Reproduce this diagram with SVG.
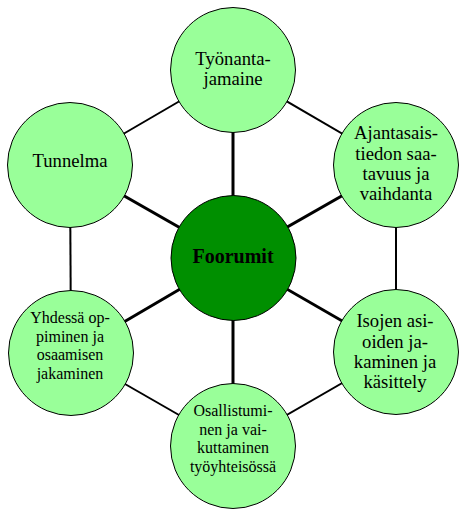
<svg xmlns="http://www.w3.org/2000/svg" width="466" height="528" viewBox="0 0 466 528" font-family="'Liberation Serif', 'Times New Roman', 'DejaVu Serif', serif">
<style>
.ring{stroke:#000;stroke-width:2;fill:none}
.spoke{stroke:#000;stroke-width:3;fill:none}
.outer{fill:#99ff99;stroke:#000;stroke-width:1}
.hub{fill:#008f00;stroke:#000;stroke-width:1}
text{font-family:'Liberation Serif','Times New Roman','DejaVu Serif',serif;fill:#000;text-anchor:middle}
.t14{font-size:18.67px}
.t12{font-size:16px}
.tb{font-size:20px;font-weight:bold}
</style>
<rect width="466" height="528" fill="#fff"/>
<g id="connectors">
<line class="ring" x1="233" y1="70" x2="396" y2="165"/>
<line class="ring" x1="396" y1="165" x2="396" y2="352"/>
<line class="ring" x1="396" y1="352" x2="233" y2="446"/>
<line class="ring" x1="233" y1="446" x2="71" y2="353"/>
<line class="ring" x1="71" y1="353" x2="70" y2="165"/>
<line class="ring" x1="70" y1="165" x2="233" y2="70"/>
<line class="spoke" x1="233" y1="258" x2="233" y2="70"/>
<line class="spoke" x1="233" y1="258" x2="396" y2="165"/>
<line class="spoke" x1="233" y1="258" x2="396" y2="352"/>
<line class="spoke" x1="233" y1="258" x2="233" y2="446"/>
<line class="spoke" x1="233" y1="258" x2="71" y2="353"/>
<line class="spoke" x1="233" y1="258" x2="70" y2="165"/>
</g>
<g id="node-tyonantajamaine">
<circle class="outer" cx="233" cy="70" r="62.5"/>
<text class="t14" x="233" y="65">Työnanta-</text>
<text class="t14" x="233" y="85">jamaine</text>
</g>
<g id="node-ajantasaistiedon">
<circle class="outer" cx="396" cy="165" r="62.5"/>
<text class="t14" x="396" y="139">Ajantasais-</text>
<text class="t14" x="396" y="159.5">tiedon saa-</text>
<text class="t14" x="396" y="180">tavuus ja</text>
<text class="t14" x="396" y="200">vaihdanta</text>
</g>
<g id="node-isojen">
<circle class="outer" cx="396" cy="352" r="62.5"/>
<text class="t14" x="395" y="327">Isojen asi-</text>
<text class="t14" x="395" y="347.5">oiden ja-</text>
<text class="t14" x="395" y="368">kaminen ja</text>
<text class="t14" x="395" y="388">käsittely</text>
</g>
<g id="node-osallistuminen">
<circle class="outer" cx="233" cy="446" r="62.5"/>
<text class="t12" x="233" y="416">Osallistumi-</text>
<text class="t12" x="233" y="434.5">nen ja vai-</text>
<text class="t12" x="233" y="453">kuttaminen</text>
<text class="t12" x="233" y="471.5">työyhteisössä</text>
</g>
<g id="node-yhdessa">
<circle class="outer" cx="71" cy="353" r="62.5"/>
<text class="t12" x="70" y="323">Yhdessä op-</text>
<text class="t12" x="70" y="341.5">piminen ja</text>
<text class="t12" x="70" y="360">osaamisen</text>
<text class="t12" x="70" y="378.5">jakaminen</text>
</g>
<g id="node-tunnelma">
<circle class="outer" cx="70" cy="165" r="62.5"/>
<text class="t14" x="70" y="167">Tunnelma</text>
</g>
<g id="node-foorumit">
<circle class="hub" cx="233.5" cy="258" r="62.5"/>
<text class="tb" x="233" y="263">Foorumit</text>
</g>
</svg>
